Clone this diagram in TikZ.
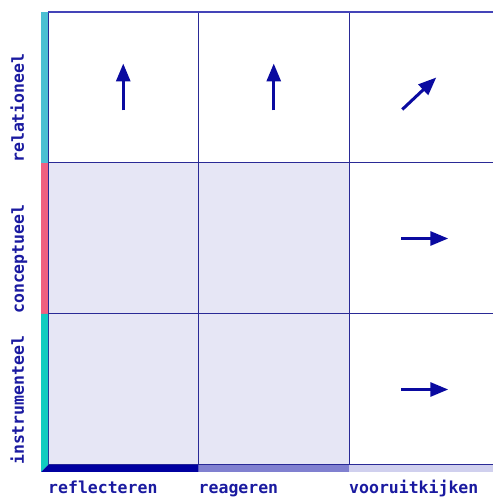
\documentclass[tikz,border=0pt]{standalone}
\usepackage{fontspec}
\setmonofont{DejaVu Sans Mono}
\usetikzlibrary{arrows.meta}
\definecolor{lijn}{HTML}{2A2A96}
\definecolor{bovenlijn}{HTML}{4444B8}
\definecolor{vlak}{HTML}{E6E6F5}
\definecolor{pijlblauw}{HTML}{0A0AA0}
\definecolor{tekst}{HTML}{1A1AA0}
\definecolor{relkleur}{HTML}{4BBFD2}
\definecolor{conkleur}{HTML}{F06080}
\definecolor{inskleur}{HTML}{10CCC0}
\definecolor{refkleur}{HTML}{0000A0}
\definecolor{reakleur}{HTML}{8080D0}
\definecolor{voorkleur}{HTML}{D0D0EE}
\tikzset{
	cel/.style = {minimum width=150.5pt, minimum height=151pt, inner sep=0pt, outer sep=0pt, draw=lijn, line width=1pt},
	leeg/.style = {cel, fill=white},
	grijs/.style = {cel, fill=vlak},
	pijl/.style = {draw=pijlblauw, line width=3pt, -{Triangle[length=18pt,width=14pt]}},
	as/.style = {font=\ttfamily\bfseries\fontsize{16.5}{18}\selectfont, text=tekst, inner sep=0pt}
}
\begin{document}
\begin{tikzpicture}[x=1pt, y=1pt]
		\useasboundingbox (0,0) rectangle (492,497);
		% cellen
		\node [leeg] (c11) at (123.25,409.5) {};
		\node [leeg] (c12) at (273.75,409.5) {};
		\node [leeg] (c13) at (424.25,409.5) {};
		\node [grijs] (c21) at (123.25,258.5) {};
		\node [grijs] (c22) at (273.75,258.5) {};
		\node [leeg] (c23) at (424.25,258.5) {};
		\node [grijs] (c31) at (123.25,107.5) {};
		\node [grijs] (c32) at (273.75,107.5) {};
		\node [leeg] (c33) at (424.25,107.5) {};
		\draw [bovenlijn, line width=2pt] (c11.north west) -- (c13.north east);
		% balken
		\fill [relkleur] ([xshift=-7pt]c11.north west) rectangle (c21.north west);
		\fill [conkleur] ([xshift=-7pt]c21.north west) rectangle (c31.north west);
		\fill [inskleur] ([xshift=-7pt]c31.north west) -- (c31.north west) -- (c31.south west) -- ([xshift=-7pt, yshift=-7pt]c31.south west) -- cycle;
		\fill [refkleur] ([xshift=-7pt, yshift=-7pt]c31.south west) -- (c31.south west) -- (c31.south east) -- ([yshift=-7pt]c31.south east) -- cycle;
		\fill [reakleur] (c32.south west) rectangle ([yshift=-7pt]c32.south east);
		\fill [voorkleur] (c33.south west) rectangle ([yshift=-7pt]c33.south east);
		% pijlen
		\draw [pijl] ([yshift=-23pt]c11.center) -- ([yshift=24pt]c11.center);
		\draw [pijl] ([yshift=-23pt]c12.center) -- ([yshift=24pt]c12.center);
		\draw [pijl] ([xshift=-22pt, yshift=-22pt]c13.center) -- ([xshift=12pt, yshift=10pt]c13.center);
		\draw [pijl] ([xshift=-23pt]c23.center) -- ([xshift=24pt]c23.center);
		\draw [pijl] ([xshift=-23pt]c33.center) -- ([xshift=24pt]c33.center);
		% labels
		\node [as, anchor=base west] (reflecteren) at ([yshift=-29pt]c31.south west) {reflecteren};
		\node [as, anchor=base west] (reageren) at ([yshift=-29pt]c32.south west) {reageren};
		\node [as, anchor=base west] (vooruitkijken) at ([yshift=-29pt]c33.south west) {vooruitkijken};
		\node [as, rotate=90, anchor=base west] (relationeel) at ([xshift=-24pt]c11.south west) {relationeel};
		\node [as, rotate=90, anchor=base west] (conceptueel) at ([xshift=-24pt]c21.south west) {conceptueel};
		\node [as, rotate=90, anchor=base west] (instrumenteel) at ([xshift=-24pt]c31.south west) {instrumenteel};
\end{tikzpicture}
\end{document}
